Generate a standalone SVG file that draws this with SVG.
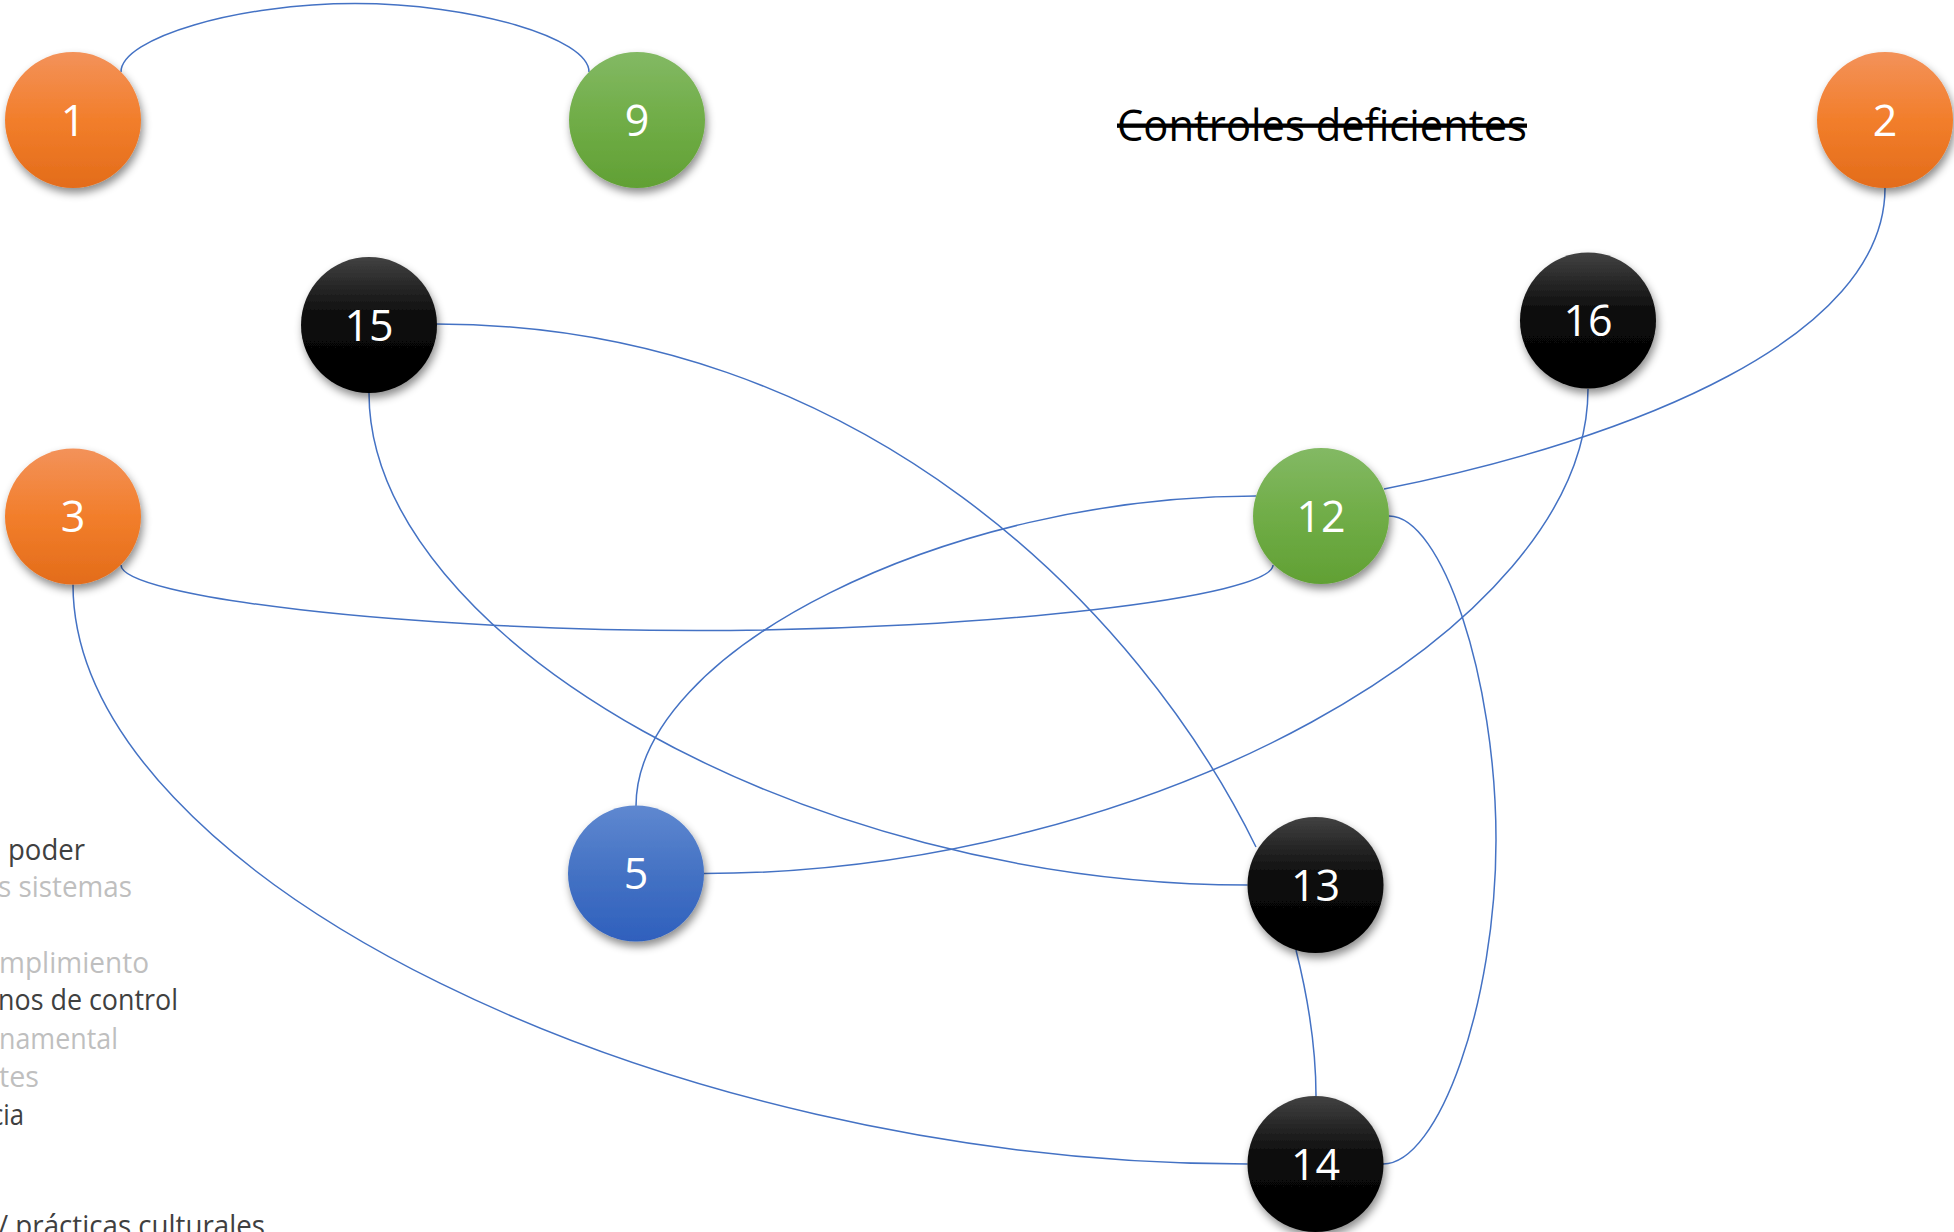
<svg xmlns="http://www.w3.org/2000/svg" width="1954" height="1232" viewBox="0 0 1954 1232">
<style>
.conn{fill:none;stroke:#4472c4;stroke-width:1.5}
.lbl{font-family:"Open Sans","Noto Sans","Liberation Sans",sans-serif;font-size:43px;fill:#ffffff;text-anchor:middle}
.side{font-family:"Open Sans","Noto Sans","Liberation Sans",sans-serif;font-size:30px}
.dark{fill:#404040}
.light{fill:#bfbfbf}
.title{font-family:"Open Sans","Noto Sans","Liberation Sans",sans-serif;font-size:43px;fill:#000000;text-decoration:line-through}
</style>
<defs>
<linearGradient id="gOrange" x1="0" y1="0" x2="0" y2="1">
<stop offset="0" stop-color="#f3925a"/><stop offset="0.5" stop-color="#f27e2b"/><stop offset="1" stop-color="#e36c1a"/>
</linearGradient>
<linearGradient id="gGreen" x1="0" y1="0" x2="0" y2="1">
<stop offset="0" stop-color="#83b964"/><stop offset="0.5" stop-color="#70ad47"/><stop offset="1" stop-color="#61a034"/>
</linearGradient>
<linearGradient id="gBlue" x1="0" y1="0" x2="0" y2="1">
<stop offset="0" stop-color="#5f88d0"/><stop offset="0.5" stop-color="#4472c4"/><stop offset="1" stop-color="#2f60bd"/>
</linearGradient>
<linearGradient id="gBlack" x1="0" y1="0" x2="0" y2="1">
<stop offset="0" stop-color="#424242"/><stop offset="0.45" stop-color="#0a0a0a"/><stop offset="1" stop-color="#000000"/>
</linearGradient>
<filter id="shadow" x="-30%" y="-30%" width="160%" height="170%">
<feDropShadow dx="2" dy="5" stdDeviation="4" flood-color="#000" flood-opacity="0.45"/>
</filter>
</defs>
<rect width="1954" height="1232" fill="#ffffff"/>

<g id="side-text" class="side">
<text class="dark" x="8" y="860" textLength="77" lengthAdjust="spacingAndGlyphs">poder</text>
<text class="light" x="-2" y="897" textLength="134" lengthAdjust="spacingAndGlyphs">s sistemas</text>
<text class="light" x="-1" y="973" textLength="150" lengthAdjust="spacingAndGlyphs">mplimiento</text>
<text class="dark" x="-2" y="1010" textLength="180" lengthAdjust="spacingAndGlyphs">nos de control</text>
<text class="light" x="-1" y="1049" textLength="119" lengthAdjust="spacingAndGlyphs">namental</text>
<text class="light" x="-1" y="1087" textLength="40" lengthAdjust="spacingAndGlyphs">tes</text>
<text class="dark" x="-9" y="1125" textLength="33" lengthAdjust="spacingAndGlyphs">cia</text>
<text class="dark" x="-2" y="1236" textLength="267" lengthAdjust="spacingAndGlyphs">/ prácticas culturales</text>
</g>

<g id="title">
<text class="title" x="1117" y="141" textLength="410" lengthAdjust="spacingAndGlyphs">Controles deficientes</text>
</g>

<g id="connectors">
<path class="conn" d="M121,72 C121,38 238,3.5 355,3.5 C472,3.5 589,38 589,72"/>
<path class="conn" d="M1885,188 C1885,338 1634,439 1384,489"/>
<path class="conn" d="M1588,389 C1588,631 1146,873.5 704,873.5"/>
<path class="conn" d="M436,324 C860,324 1140,610 1256,847"/>
<path class="conn" d="M369,393 C369,639 808,885 1247.5,885"/>
<path class="conn" d="M121,565 C121,597 408,630.5 697,630.5 C986,630.5 1273,597 1273,565"/>
<path class="conn" d="M1256,496 C946,496 636,651 636,806"/>
<path class="conn" d="M1389,516 C1442,516 1496,678 1496,840 C1496,1002 1439,1164 1383,1164"/>
<path class="conn" d="M1296,950 C1306,990 1316,1040 1316,1096"/>
<path class="conn" d="M73,584.5 C73,875 660,1164 1247.5,1164"/>
</g>

<g id="node-1"><circle cx="73" cy="120" r="68" fill="url(#gOrange)" filter="url(#shadow)"/><text class="lbl" x="73" y="135.5">1</text></g>
<g id="node-9"><circle cx="637" cy="120" r="68" fill="url(#gGreen)" filter="url(#shadow)"/><text class="lbl" x="637" y="135.5">9</text></g>
<g id="node-2"><circle cx="1885" cy="120" r="68" fill="url(#gOrange)" filter="url(#shadow)"/><text class="lbl" x="1885" y="135.5">2</text></g>
<g id="node-15"><circle cx="369" cy="325" r="68" fill="url(#gBlack)" filter="url(#shadow)"/><text class="lbl" x="369" y="340.5">15</text></g>
<g id="node-16"><circle cx="1588" cy="320.5" r="68" fill="url(#gBlack)" filter="url(#shadow)"/><text class="lbl" x="1588" y="336">16</text></g>
<g id="node-3"><circle cx="73" cy="516.5" r="68" fill="url(#gOrange)" filter="url(#shadow)"/><text class="lbl" x="73" y="532">3</text></g>
<g id="node-12"><circle cx="1321" cy="516" r="68" fill="url(#gGreen)" filter="url(#shadow)"/><text class="lbl" x="1321" y="531.5">12</text></g>
<g id="node-5"><circle cx="636" cy="873.5" r="68" fill="url(#gBlue)" filter="url(#shadow)"/><text class="lbl" x="636" y="889">5</text></g>
<g id="node-13"><circle cx="1315.5" cy="885" r="68" fill="url(#gBlack)" filter="url(#shadow)"/><text class="lbl" x="1315.5" y="900.5">13</text></g>
<g id="node-14"><circle cx="1315.5" cy="1164" r="68" fill="url(#gBlack)" filter="url(#shadow)"/><text class="lbl" x="1315.5" y="1179.5">14</text></g>
</svg>
